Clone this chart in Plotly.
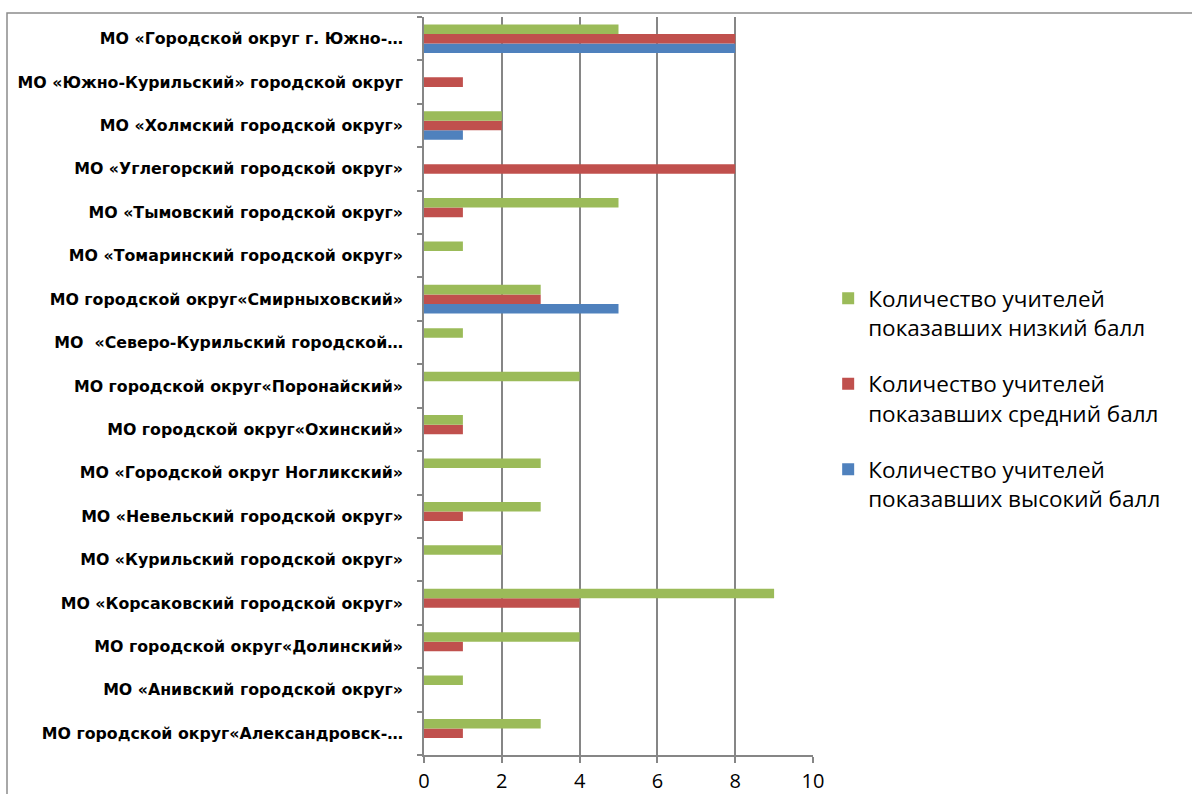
import plotly.graph_objects as go

categories = [
    "МО городской округ«Александровск-…",
    "МО «Анивский городской округ»",
    "МО городской округ«Долинский»",
    "МО «Корсаковский городской округ»",
    "МО «Курильский городской округ»",
    "МО «Невельский городской округ»",
    "МО «Городской округ Ногликский»",
    "МО городской округ«Охинский»",
    "МО городской округ«Поронайский»",
    "МО  «Северо-Курильский городской…",
    "МО городской округ«Смирныховский»",
    "МО «Томаринский городской округ»",
    "МО «Тымовский городской округ»",
    "МО «Углегорский городской округ»",
    "МО «Холмский городской округ»",
    "МО «Южно-Курильский» городской округ",
    "МО «Городской округ г. Южно-…",
]

high = [0, 0, 0, 0, 0, 0, 0, 0, 0, 0, 5, 0, 0, 0, 1, 0, 8]
mid = [1, 0, 1, 4, 0, 1, 0, 1, 0, 0, 3, 0, 1, 8, 2, 1, 8]
low = [3, 1, 4, 9, 2, 3, 3, 1, 4, 1, 3, 1, 5, 0, 2, 0, 5]

names = [
    "Количество учителей<br>показавших высокий балл",
    "Количество учителей<br>показавших средний балл",
    "Количество учителей<br>показавших низкий балл",
]
colors = ["#4F81BD", "#C0504D", "#9BBB59"]
ranks = [3, 2, 1]
x_ticks = [0, 2, 4, 6, 8, 10]

fig = go.Figure()
for i, (vals, name, col) in enumerate(zip([high, mid, low], names, colors)):
    fig.add_trace(go.Bar(
        y=categories, x=vals, name=name, orientation="h",
        marker=dict(color=col, line=dict(width=0)),
        legendgroup=f"g{i}", legendrank=ranks[i],
    ))

fig.update_layout(
    width=1192, height=794,
    margin=dict(l=424, r=379, t=17, b=39, autoexpand=False),
    paper_bgcolor="white", plot_bgcolor="white",
    barmode="group", bargap=0.34, bargroupgap=0,
    font=dict(family="Open Sans", color="black"),
    showlegend=True,
    legend=dict(
        x=1.039, y=0.483, xanchor="left", yanchor="middle",
        traceorder="grouped", tracegroupgap=24, valign="top",
        font=dict(size=22.5, family="Open Sans", color="black"),
        itemwidth=30,
    ),
    shapes=[dict(
        type="rect", xref="paper", yref="paper",
        x0=(7 - 424) / 389, x1=3, y0=-2, y1=(755 - 13) / 738,
        line=dict(color="#8C8C8C", width=1.5), fillcolor="rgba(0,0,0,0)",
        layer="above",
    )],
)

fig.update_xaxes(
    range=[0, 10], tickvals=x_ticks, ticktext=[str(v) for v in x_ticks],
    showgrid=True, gridcolor="#868686", gridwidth=1.5,
    showline=True, linecolor="#868686", linewidth=1.5,
    ticks="outside", ticklen=6, tickcolor="#868686", tickwidth=1.5,
    tickfont=dict(size=20, family="Open Sans", color="black"),
    ticklabelstandoff=1,
    zeroline=False, fixedrange=True, automargin=False,
)
fig.update_yaxes(
    categoryorder="array", categoryarray=categories,
    showgrid=False, showline=True, linecolor="#868686", linewidth=1.5,
    ticks="outside", ticklen=5, tickcolor="#868686", tickwidth=1.5,
    tickson="boundaries", ticklabelstandoff=16,
    tickfont=dict(size=15.8, family="DejaVu Sans", color="black", weight="bold"),
    range=[-0.5, len(categories) - 0.5], fixedrange=True, automargin=False,
)

fig.write_html(
    "out.html",
    config={"displayModeBar": False},
    post_script="document.body.style.margin='0';document.body.style.overflow='hidden';",
)
